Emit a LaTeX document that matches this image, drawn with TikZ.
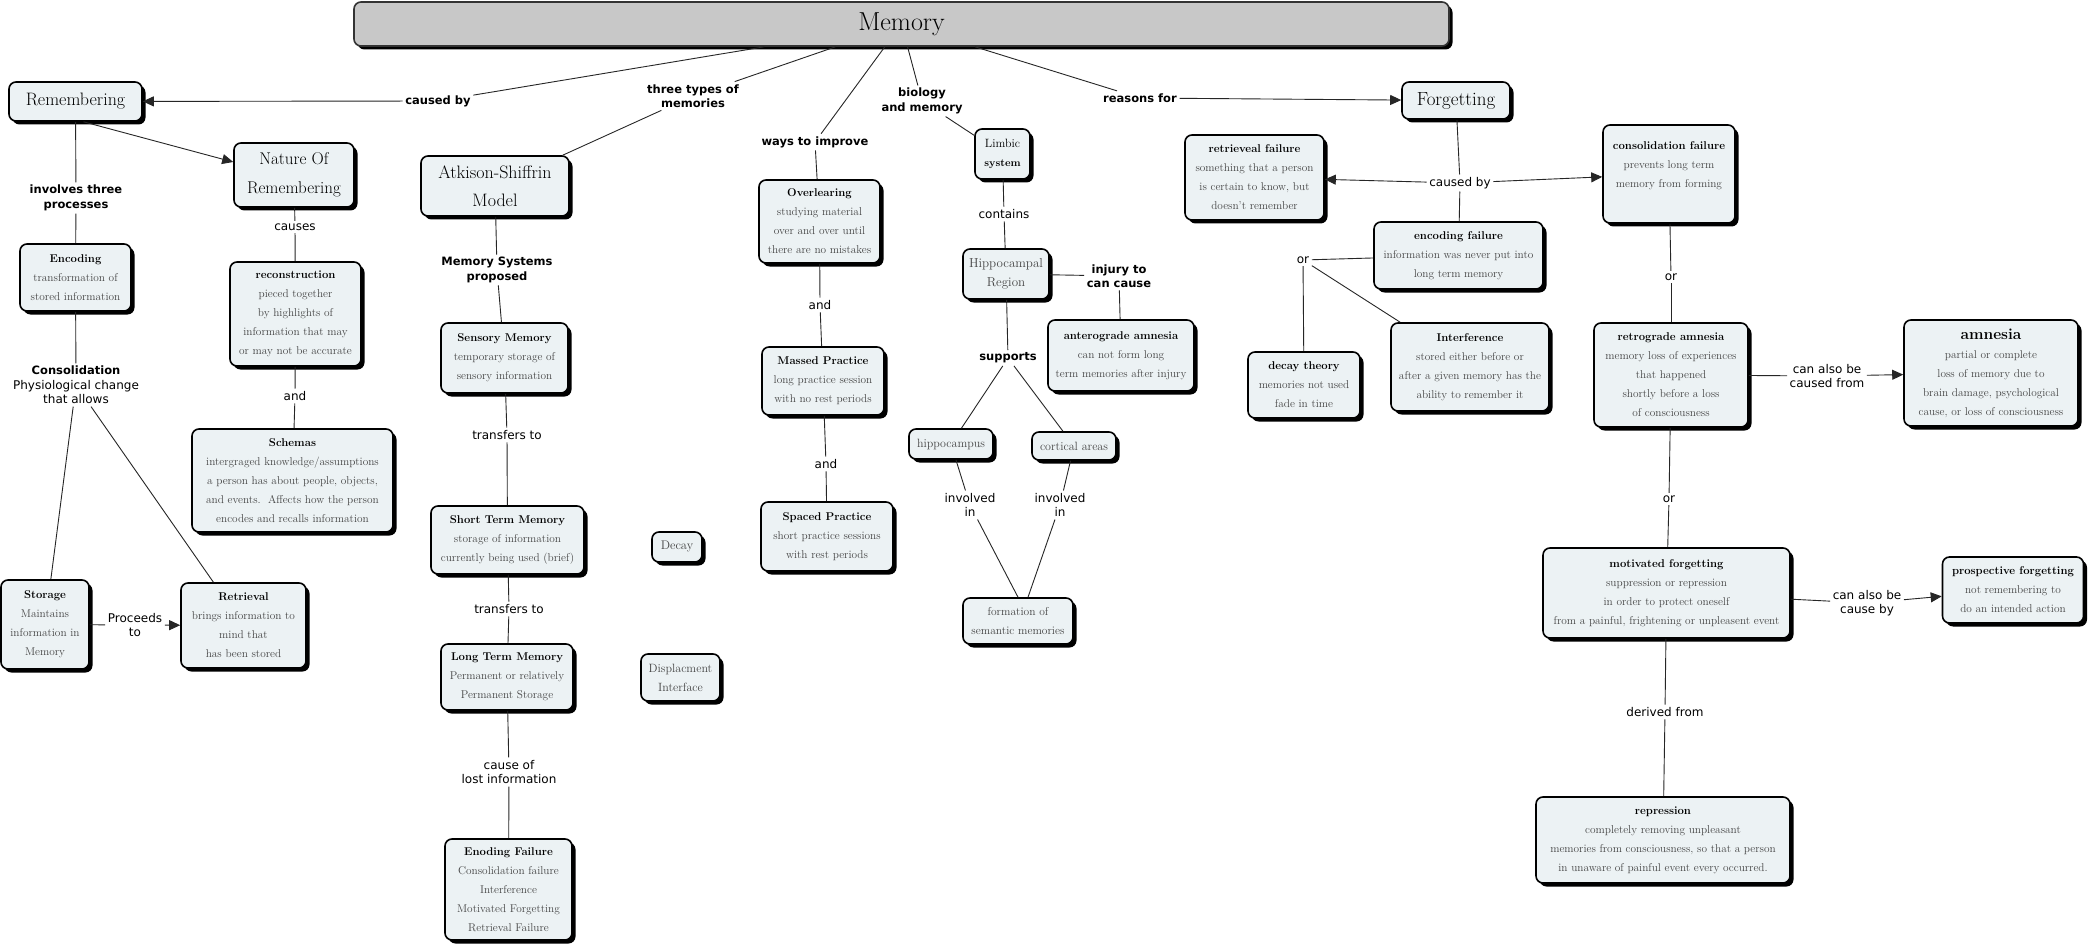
\documentclass[tikz,border=0pt]{standalone}
\usepackage{fontspec}
\newfontfamily\lblfont{DejaVu Sans}
\usetikzlibrary{shadows,arrows.meta}
\definecolor{boxfill}{HTML}{ECF2F4}
\definecolor{bodygray}{HTML}{454545}
\definecolor{memfill}{HTML}{C8C8C8}
\newcommand\ttl{\fontsize{11.3}{19}\selectfont\bfseries\color{black}}
\newcommand\mknode[7][]{\node[concept, minimum width=#5pt, minimum height=#6pt, #1] (#2) at (#3,#4) {#7};}
\newcommand\lb[4]{\node[lbl] (#1) at (#2,#3) {#4};}
\newcommand\lbb[4]{\node[lbl,font=\lblfont\bfseries\fontsize{11.5}{14.5}\selectfont] (#1) at (#2,#3) {#4};}
\tikzset{
  concept/.style={draw=black, line width=1.6pt, rounded corners=7pt, fill=boxfill,
    drop shadow={shadow xshift=3.5pt,shadow yshift=-3.5pt,opacity=1,fill=black},
    align=center, inner sep=0pt, text=bodygray, font=\fontsize{11.3}{19}\selectfont},
  lbl/.style={align=center, inner sep=2.5pt, text=black, font=\lblfont\fontsize{12}{14.5}\selectfont},
  con/.style={draw=black!85, line width=0.9pt},
  arr/.style={con, -{Triangle[length=11pt,width=10pt]}}
}
\begin{document}
\begin{tikzpicture}[x=1pt,y=-1pt]
\useasboundingbox (0,0) rectangle (2094,952);
\fill[white] (0,0) rectangle (2094,952);

% top
\node[concept, fill=memfill, draw=black!80, minimum width=1095pt, minimum height=44pt,
  text=black, font=\fontsize{26}{30}\selectfont] (mem) at (901.5,24) {Memory};

% left branch
\mknode[text=black,font=\fontsize{18}{22}\selectfont]{rem}{75.5}{101.5}{133}{39}{Remembering}
\mknode[text=black,font=\fontsize{17}{29}\selectfont]{nat}{294}{175}{120}{64}{Nature Of\\Remembering}
\mknode[text=black,font=\fontsize{18}{28}\selectfont]{atk}{495}{186}{148}{60}{Atkison-Shiffrin\\Model}
\mknode{enc}{75.5}{277.5}{111}{67}{{\ttl Encoding}\\transformation of\\stored information}
\mknode{recon}{295.5}{314}{131}{104}{{\ttl reconstruction}\\pieced together\\by highlights of\\information that may\\or may not be accurate}
\mknode{schem}{292.5}{480.5}{201}{103}{{\ttl Schemas}\\intergraged knowledge/assumptions\\a person has about people, objects,\\and events.\ \ Affects how the person\\encodes and recalls information}
\mknode{stor}{45}{624.5}{88}{89}{{\ttl Storage}\\Maintains\\information in\\Memory}
\mknode{retr}{243.5}{625.5}{125}{85}{{\ttl Retrieval}\\brings information to\\mind that\\has been stored}
\mknode{sens}{504.5}{358}{127}{70}{{\ttl Sensory Memory}\\temporary storage of\\sensory information}
\mknode{stm}{507.5}{540}{153}{68}{{\ttl Short Term Memory}\\storage of information\\currently being used (brief)}
\mknode{ltm}{507}{677}{132}{66}{{\ttl Long Term Memory}\\Permanent or relatively\\Permanent Storage}
\mknode{efail}{508.5}{889.5}{127}{101}{{\ttl Enoding Failure}\\Consolidation failure\\Interference\\Motivated Forgetting\\Retrieval Failure}
\mknode[font=\fontsize{12.5}{19}\selectfont]{decay}{677}{547}{50}{30}{Decay}
\mknode[font=\fontsize{12}{19}\selectfont]{displ}{680.5}{677.5}{79}{47}{Displacment\\Interface}

% middle
\mknode{over}{819.5}{221.5}{121}{83}{{\ttl Overlearing}\\studying material\\over and over until\\there are no mistakes}
\mknode{massed}{823}{381}{122}{68}{{\ttl Massed Practice}\\long practice session\\with no rest periods}
\mknode{spaced}{827}{536.5}{132}{69}{{\ttl Spaced Practice}\\short practice sessions\\with rest periods}
\mknode[text=black,font=\fontsize{12}{19}\selectfont]{limb}{1002.5}{154}{55}{50}{Limbic\\{\fontsize{10.5}{19}\selectfont\bfseries system}}
\mknode[font=\fontsize{13}{19}\selectfont]{hreg}{1006}{274}{86}{50}{Hippocampal\\Region}
\mknode{antero}{1121}{355.5}{146}{71}{{\ttl anterograde amnesia}\\can not form long\\term memories after injury}
\mknode[font=\fontsize{12}{19}\selectfont]{hcamp}{951}{444}{84}{30}{hippocampus}
\mknode[font=\fontsize{12}{19}\selectfont]{cort}{1074}{446}{84}{28}{cortical areas}
\mknode[font=\fontsize{11.5}{19}\selectfont]{form}{1018}{621}{110}{46}{formation of\\semantic memories}

% right branch
\mknode[text=black,font=\fontsize{19}{22}\selectfont]{forg}{1456}{100.5}{108}{37}{Forgetting}
\mknode{retf}{1254.5}{177.5}{139}{85}{{\ttl retrieveal failure}\\something that a person\\is certain to know, but\\doesn't remember}
\mknode{consf}{1669}{174}{132}{98}{{\ttl consolidation failure}\\prevents long term\\memory from forming\\\mbox{}}
\mknode{encf}{1458.5}{255.5}{169}{67}{{\ttl encoding failure}\\information was never put into\\long term memory}
\mknode{decth}{1304}{385}{112}{66}{{\ttl decay theory}\\memories not used\\fade in time}
\mknode{interf}{1470}{367}{158}{88}{{\ttl Interference}\\stored either before or\\after a given memory has the\\ability to remember it}
\mknode{retro}{1671}{375}{154}{104}{{\ttl retrograde amnesia}\\memory loss of experiences\\that happened\\shortly before a loss\\of consciousness}
\mknode{amn}{1991}{373}{174}{106}{{\fontsize{15.5}{19}\selectfont\bfseries\color{black}amnesia}\\partial or complete\\loss of memory due to\\brain damage, psychological\\cause, or loss of consciousness}
\mknode{motiv}{1666.5}{593}{247}{90}{{\ttl motivated forgetting}\\suppression or repression\\in order to protect oneself\\from a painful, frightening or unpleasent event}
\mknode{prosp}{2013}{590}{141}{66}{{\ttl prospective forgetting}\\not remembering to\\do an intended action}
\mknode{repr}{1663}{840}{254}{86}{{\ttl repression}\\completely removing unpleasant\\memories from consciousness, so that a person\\in unaware of painful event every occurred.}

% labels
\lbb{lcb}{438}{101}{caused by}
\lbb{lthree}{693}{96}{three types of\\memories}
\lbb{lways}{815}{142}{ways to improve}
\lbb{lbio}{922}{101}{biology\\and memory}
\lbb{lreas}{1140}{98}{reasons for}
\lbb{linv}{76}{198}{involves three\\processes}
\lb{lcauses}{295}{227}{causes}
\lb{land}{295}{396}{and}
\node[lbl] (lcons) at (76,385) {{\bfseries\fontsize{11.5}{14.5}\selectfont Consolidation}\\Physiological change\\that allows};
\lb{lproc}{135}{625}{Proceeds\\to}
\lbb{lmsp}{497}{270}{Memory Systems\\proposed}
\lb{ltra}{507}{435}{transfers to}
\lb{ltrb}{509}{609}{transfers to}
\lb{lcause}{509}{772}{cause of\\lost information}
\lb{landb}{820}{305}{and}
\lb{landc}{826}{464}{and}
\lb{lcont}{1004}{214}{contains}
\lbb{linj}{1119}{276}{injury to\\can cause}
\lbb{lsup}{1008}{358}{supports}
\lb{linva}{970}{505}{involved\\in}
\lb{linvb}{1060}{505}{involved\\in}
\lb{lcbb}{1460}{183}{caused by}
\lb{lora}{1303}{260}{or}
\lb{lorb}{1671}{277}{or}
\lb{lcana}{1827}{376}{can also be\\caused from}
\lb{lorc}{1669}{499}{or}
\lb{lcanb}{1867}{603}{can also be\\cause by}
\lb{lder}{1665}{712}{derived from}

% connectors
\draw[con] (mem) -- (lcb);
\draw[arr] (lcb) -- (rem);
\draw[con] (mem) -- (lthree);
\draw[con] (lthree) -- (atk);
\draw[con] (mem) -- (lways);
\draw[con] (lways) -- (over);
\draw[con] (mem) -- (lbio);
\draw[con] (lbio) -- (limb);
\draw[con] (mem) -- (lreas);
\draw[arr] (lreas) -- (forg);

\draw[con] (rem) -- (linv);
\draw[con] (linv) -- (enc);
\draw[arr] ([xshift=8pt]rem.south) -- ([yshift=13pt]nat.west);
\draw[con] (nat) -- (lcauses);
\draw[con] (lcauses) -- (recon);
\draw[con] (recon) -- (land);
\draw[con] (land) -- (schem);
\draw[con] (enc) -- (lcons);
\draw[con] (lcons) -- (stor);
\draw[con] (lcons) -- (retr);
\draw[con] (stor) -- (lproc);
\draw[arr] (lproc) -- (retr);

\draw[con] (atk) -- (lmsp);
\draw[con] (lmsp) -- (sens);
\draw[con] (sens) -- (ltra);
\draw[con] (ltra) -- (stm);
\draw[con] (stm) -- (ltrb);
\draw[con] (ltrb) -- (ltm);
\draw[con] (ltm) -- (lcause);
\draw[con] (lcause) -- (efail);

\draw[con] (over) -- (landb);
\draw[con] (landb) -- (massed);
\draw[con] (massed) -- (landc);
\draw[con] (landc) -- (spaced);

\draw[con] (limb) -- (lcont);
\draw[con] (lcont) -- (hreg);
\draw[con] (hreg) -- (linj);
\draw[con] (linj) -- (antero);
\draw[con] (hreg) -- (lsup);
\draw[con] (lsup) -- (hcamp);
\draw[con] (lsup) -- (cort);
\draw[con] (hcamp) -- (linva);
\draw[con] (linva) -- (form.north);
\draw[con] (cort) -- (linvb);
\draw[con] (linvb) -- ([xshift=10pt]form.north);

\draw[con] (forg) -- (lcbb);
\draw[arr] (lcbb) -- (retf);
\draw[arr] (lcbb) -- (consf);
\draw[con] (lcbb) -- (encf);
\draw[con] (encf) -- (lora);
\draw[con] (lora) -- (decth);
\draw[con] (lora) -- (interf);
\draw[con] (consf) -- (lorb);
\draw[con] (lorb) -- (retro);
\draw[con] (retro) -- (lcana);
\draw[arr] (lcana) -- (amn);
\draw[con] (retro) -- (lorc);
\draw[con] (lorc) -- (motiv);
\draw[con] (motiv) -- (lcanb);
\draw[arr] (lcanb) -- (prosp);
\draw[con] (motiv) -- (lder);
\draw[con] (lder) -- (repr);
\end{tikzpicture}
\end{document}
